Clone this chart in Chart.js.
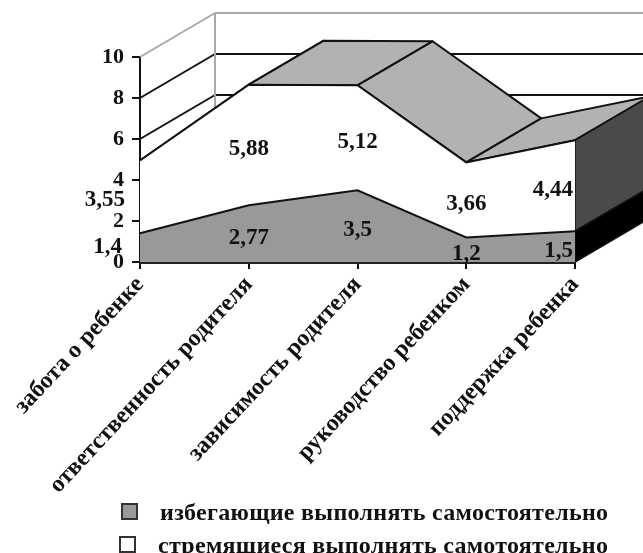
<!DOCTYPE html>
<html>
<head>
<meta charset="utf-8">
<script src="https://cdn.jsdelivr.net/npm/chart.js@4/dist/chart.umd.min.js"></script>
<style>
  html, body { margin: 0; padding: 0; background: #fff; overflow: hidden; }
  #wrap { position: relative; width: 643px; height: 553px; }
  #legend { position: absolute; left: 120px; top: 0; font: bold 24px "Liberation Serif", serif; letter-spacing: 0.3px; color: #111; }
  #legend div { position: absolute; white-space: nowrap; line-height: 24px; }
  #legend i { position: absolute; left: -39px; top: 3px; width: 13px; height: 13px; border: 2px solid #333; }
</style>
</head>
<body>
<div id="wrap">
  <canvas id="chart" width="643" height="553"></canvas>
  <div id="legend"></div>
</div>
<script>
const categories = ['забота о ребенке', 'ответственность родителя', 'зависимость родителя', 'руководство ребенком', 'поддержка ребенка'];
const avoiding = [1.4, 2.77, 3.5, 1.2, 1.5];
const striving = [3.55, 5.88, 5.12, 3.66, 4.44];
const avoidingLabels = ['1,4', '2,77', '3,5', '1,2', '1,5'];
const strivingLabels = ['3,55', '5,88', '5,12', '3,66', '4,44'];
const seriesNames = ['избегающие выполнять самостоятельно', 'стремящиеся выполнять самотоятельно'];
const yTicks = [0, 2, 4, 6, 8, 10];

const depthX = 75, depthY = -44;
const numFont = 'bold 23px "Liberation Serif", serif';

function poly(ctx, pts, fill, stroke, width) {
  ctx.beginPath();
  pts.forEach((p, i) => i ? ctx.lineTo(p[0], p[1]) : ctx.moveTo(p[0], p[1]));
  ctx.closePath();
  if (fill) { ctx.fillStyle = fill; ctx.fill(); }
  if (stroke) { ctx.strokeStyle = stroke; ctx.lineWidth = width; ctx.stroke(); }
}

function seg(ctx, x1, y1, x2, y2, color, width) {
  ctx.beginPath();
  ctx.moveTo(x1, y1);
  ctx.lineTo(x2, y2);
  ctx.strokeStyle = color;
  ctx.lineWidth = width;
  ctx.stroke();
}

// fake 3D: walls, top surface and the right side, all from the chart scales
const depthPlugin = {
  id: 'depth',
  beforeDatasetsDraw(chart) {
    const { ctx, scales: { x, y } } = chart;
    const left = x.getPixelForValue(0);
    const right = chart.width;
    ctx.save();
    ctx.lineJoin = 'round';
    yTicks.forEach(t => {
      if (t === 0) return;
      const py = y.getPixelForValue(t);
      const top = t === yTicks[yTicks.length - 1];
      const col = top ? '#a8a8a8' : '#111';
      seg(ctx, left, py, left + depthX, py + depthY, col, 2);
      seg(ctx, left + depthX, py + depthY, right, py + depthY, col, 2);
    });
    seg(ctx, left + depthX, y.getPixelForValue(10) + depthY, left + depthX, y.getPixelForValue(0) + depthY, '#a8a8a8', 2);

    const stack = avoiding.map((v, i) => v + striving[i]);
    const pt = i => [x.getPixelForValue(i), y.getPixelForValue(stack[i])];
    for (let i = 0; i < stack.length - 1; i++) {
      const a = pt(i), b = pt(i + 1);
      poly(ctx, [a, b, [b[0] + depthX, b[1] + depthY], [a[0] + depthX, a[1] + depthY]], '#b2b2b2', '#111', 2);
    }
    const last = stack.length - 1;
    const lx = x.getPixelForValue(last);
    const side = (from, to, fill) => {
      const y1 = y.getPixelForValue(from), y2 = y.getPixelForValue(to);
      poly(ctx, [[lx, y1], [lx, y2], [lx + depthX, y2 + depthY], [lx + depthX, y1 + depthY]], fill, '#111', 1.5);
    };
    side(stack[last], avoiding[last], '#4a4a4a');
    side(avoiding[last], 0, '#000');
    ctx.restore();
  },
  afterDatasetsDraw(chart) {
    const { ctx, scales: { x, y } } = chart;
    const last = categories.length - 1;
    ctx.save();
    ctx.font = numFont;
    ctx.fillStyle = '#111';
    ctx.textBaseline = 'middle';
    const put = (txt, i, mid, firstGap, firstUp) => {
      let px = x.getPixelForValue(i);
      let py = y.getPixelForValue(mid) + 4;
      ctx.textAlign = 'center';
      if (i === 0) { px -= firstGap; py -= firstUp; ctx.textAlign = 'right'; }
      if (i === last) { px -= 2; ctx.textAlign = 'right'; }
      ctx.fillText(txt, px, py);
    };
    avoiding.forEach((v, i) => put(avoidingLabels[i], i, v / 2, 18, 5));
    striving.forEach((v, i) => put(strivingLabels[i], i, avoiding[i] + v / 2, 15, 1));
    ctx.restore();
  }
};

new Chart(document.getElementById('chart'), {
  type: 'line',
  data: {
    labels: categories,
    datasets: [
      { label: seriesNames[0], data: avoiding, backgroundColor: '#999999', borderColor: '#111', borderWidth: 2, fill: 'origin', tension: 0, pointRadius: 0, clip: false },
      { label: seriesNames[1], data: striving, backgroundColor: '#ffffff', borderColor: '#111', borderWidth: 2, fill: '-1', tension: 0, pointRadius: 0, clip: false }
    ]
  },
  options: {
    responsive: false,
    animation: false,
    layout: { padding: { left: 0, top: 57, right: 68, bottom: 0 } },
    plugins: { legend: { display: false }, tooltip: { enabled: false } },
    scales: {
      x: {
        offset: false,
        afterFit(s) { s.height = 291; },
        grid: { drawOnChartArea: false, color: '#111', lineWidth: 2, tickLength: 7 },
        border: { color: '#222', width: 3 },
        ticks: { autoSkip: false, minRotation: 47, maxRotation: 47, padding: 2, color: '#111', font: { family: '"Liberation Serif", serif', weight: 'bold', size: 24 } }
      },
      y: {
        stacked: true,
        min: 0,
        max: 10,
        afterFit(s) { s.width = 140; },
        afterBuildTicks(s) { s.ticks = yTicks.map(v => ({ value: v })); },
        grid: { drawOnChartArea: false, color: '#111', lineWidth: 2, tickLength: 8 },
        border: { color: '#111', width: 2 },
        ticks: { padding: 8, color: '#111', font: { family: '"Liberation Serif", serif', weight: 'bold', size: 22 } }
      }
    }
  },
  plugins: [depthPlugin]
});

const legendBoxes = ['#999999', '#ffffff'];
const legendTops = [500, 533];
const legendLefts = [40, 38];
const legend = document.getElementById('legend');
seriesNames.forEach((name, i) => {
  const row = document.createElement('div');
  row.style.top = legendTops[i] + 'px';
  row.style.left = legendLefts[i] + 'px';
  row.innerHTML = '<i style="background:' + legendBoxes[i] + '"></i>' + name;
  legend.appendChild(row);
});
</script>
</body>
</html>
